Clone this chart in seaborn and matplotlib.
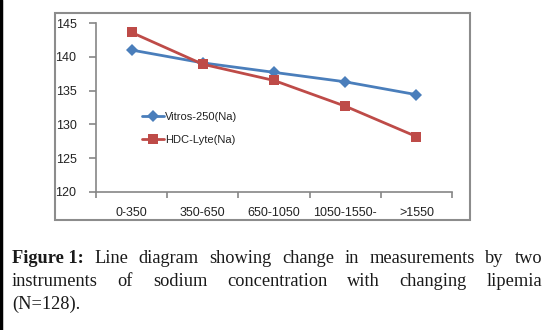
import matplotlib
matplotlib.use("Agg")
import matplotlib.pyplot as plt
import seaborn as sns
import pandas as pd
import numpy as np
from matplotlib.patches import Rectangle
from matplotlib.lines import Line2D

categories = ["0-350", "350-650", "650-1050", "1050-1550-", ">1550"]
vitros = [141.0, 139.1, 137.7, 136.3, 134.4]
hdc = [143.6, 138.9, 136.5, 132.7, 128.2]
series_names = ["Vitros-250(Na)", "HDC-Lyte(Na)"]
yticks = [120, 125, 130, 135, 140, 145]

df = pd.DataFrame({
    "lipemia": categories * 2,
    "Na": vitros + hdc,
    "instrument": [series_names[0]] * len(categories) + [series_names[1]] * len(categories),
})

sns.set_style("white")
plt.rcParams["font.family"] = ["Liberation Sans", "DejaVu Sans"]

W, H = 550, 330
fig = plt.figure(figsize=(5.5, 3.3), dpi=100)
ax = fig.add_axes([96 / W, 1 - 192 / H, (452 - 96) / W, (192 - 23) / H])

blue = "#4A7EBB"
red = "#BE4B48"
sns.lineplot(data=df, x="lipemia", y="Na", hue="instrument", style="instrument",
             palette={series_names[0]: blue, series_names[1]: red},
             markers={series_names[0]: "D", series_names[1]: "s"},
             dashes=False, linewidth=2, markersize=6, markeredgewidth=0,
             sort=False, ax=ax)
for ln in ax.lines:
    if ln.get_marker() == "s":
        ln.set_markersize(7)

ax.set_xlim(-0.5, len(categories) - 0.5)
ax.set_ylim(yticks[0], yticks[-1])
ax.set_yticks(yticks)
ax.set_xticks(np.arange(-0.5, len(categories)), labels=[""] * (len(categories) + 1))
ax.set_xticks(np.arange(len(categories)), labels=categories, minor=True)
ax.tick_params(axis="x", which="major", bottom=True, length=4, color="#868686", width=1.2,
               direction="out")
ax.tick_params(axis="x", which="minor", bottom=False, length=0, pad=11, labelsize=9,
               labelcolor="#222222")
ax.tick_params(axis="y", left=True, length=5, color="#868686", width=1.2, direction="out",
               labelsize=9, labelcolor="#222222", pad=9)
ax.set_xlabel("")
ax.set_ylabel("")
for s in ["top", "right"]:
    ax.spines[s].set_visible(False)
for s in ["left", "bottom"]:
    ax.spines[s].set_color("#868686")
    ax.spines[s].set_linewidth(1.2)

leg = ax.legend(loc="upper left", bbox_to_anchor=(0.1, 0.535), frameon=False,
                fontsize=8, handlelength=2.0, handletextpad=0.1, labelspacing=1.2)
for t in leg.get_texts():
    t.set_color("#222222")

# chart frame
fig.patches.append(Rectangle((55 / W, 1 - 220 / H), (470 - 55) / W, (220 - 13) / H,
                             transform=fig.transFigure, fill=False,
                             edgecolor="#8c8c8c", linewidth=1.5))
# left black edge line
fig.lines.append(Line2D([1 / W, 1 / W], [0, 1], transform=fig.transFigure,
                        color="black", linewidth=2.5))

# caption, justified
caption_lines = [
    [("Figure 1:", "bold"), ("Line", "normal"), ("diagram", "normal"), ("showing", "normal"),
     ("change", "normal"), ("in", "normal"), ("measurements", "normal"), ("by", "normal"),
     ("two", "normal")],
    [("instruments", "normal"), ("of", "normal"), ("sodium", "normal"), ("concentration", "normal"),
     ("with", "normal"), ("changing", "normal"), ("lipemia", "normal")],
    [("(N=128).", "normal")],
]
line_y = [263, 286, 309]
x0, x1 = 12, 542
fig.canvas.draw()
renderer = fig.canvas.get_renderer()
for words, yy in zip(caption_lines, line_y):
    texts = []
    for w, weight in words:
        t = fig.text(0, 1 - yy / H, w, fontsize=13.2, fontweight=weight,
                     family=["Liberation Serif", "DejaVu Serif"], va="baseline", ha="left",
                     color="#1a1a1a")
        texts.append(t)
    widths = [t.get_window_extent(renderer).width for t in texts]
    if len(texts) > 1:
        gap = ((x1 - x0) - sum(widths)) / (len(texts) - 1)
    else:
        gap = 0
    x = x0
    for t, w in zip(texts, widths):
        t.set_x(x / W)
        x += w + gap

fig.savefig("out.png", dpi=100)
